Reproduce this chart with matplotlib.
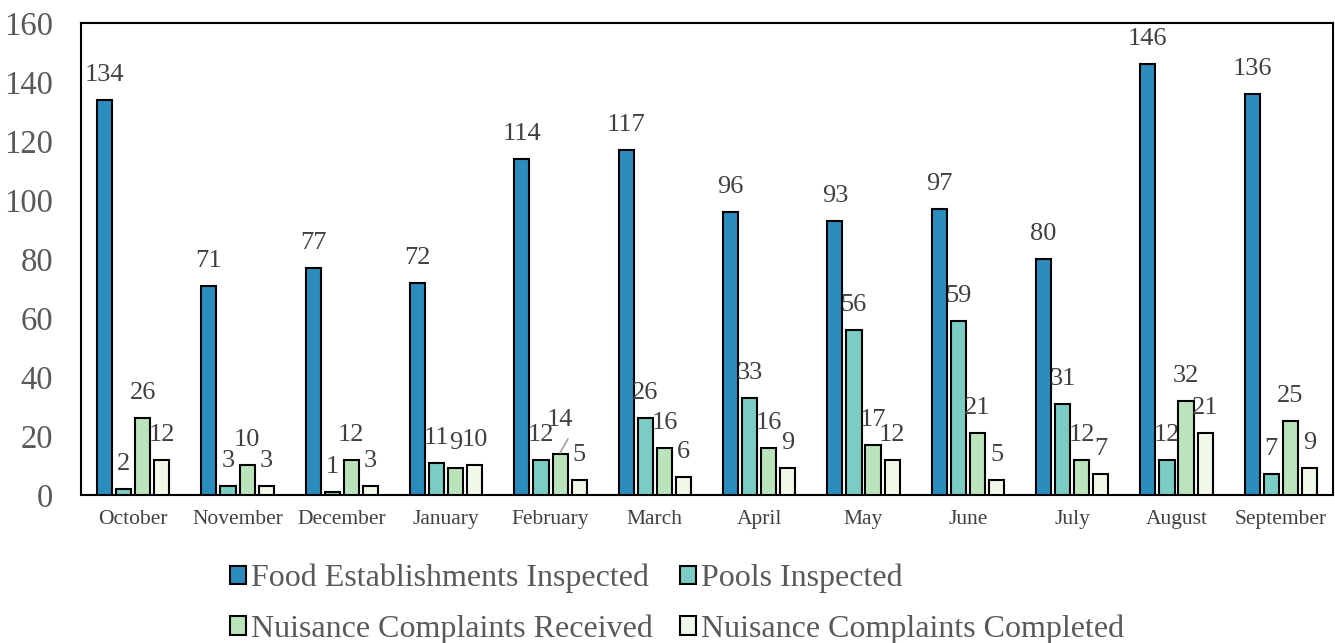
import numpy as np
import matplotlib
matplotlib.use("Agg")
import matplotlib.pyplot as plt

months = ["October", "November", "December", "January", "February", "March",
          "April", "May", "June", "July", "August", "September"]
food = [134, 71, 77, 72, 114, 117, 96, 93, 97, 80, 146, 136]
pools = [2, 3, 1, 11, 12, 26, 33, 56, 59, 31, 12, 7]
received = [26, 10, 12, 9, 14, 16, 16, 17, 21, 12, 32, 25]
completed = [12, 3, 3, 10, 5, 6, 9, 12, 5, 7, 21, 9]

series_names = ["Food Establishments Inspected", "Pools Inspected",
                "Nuisance Complaints Received", "Nuisance Complaints Completed"]
colors = ["#2b8cbe", "#7bccc4", "#bae4bc", "#f0f9e8"]

plt.rcParams["font.family"] = ["Liberation Serif", "DejaVu Serif"]
text_gray = "#595959"
label_gray = "#404040"

fig = plt.figure(figsize=(13.35, 6.43), dpi=100)
ax = fig.add_axes([0.0607, 0.2302, 0.9378, 0.734])

x = np.arange(len(months))
slot = 0.183
width = 0.145
data = [food, pools, received, completed]
handles = []
for i, (vals, col, name) in enumerate(zip(data, colors, series_names)):
    pos = x + (i - 1.5) * slot
    bars = ax.bar(pos, vals, width=width, color=col, edgecolor="black",
                  linewidth=1.5, label=name, zorder=3)
    handles.append(bars)
    for j, (px, v) in enumerate(zip(pos, vals)):
        extra = 0
        if months[j] == "February" and i == 2:
            # this label is lifted clear of its neighbours, with a leader line
            extra = 6
            ax.annotate("", xy=(px, v + 0.3), xytext=(px + 0.075, v + 5),
                        arrowprops=dict(arrowstyle="-", color="#a6a6a6",
                                        lw=1.3, shrinkA=0, shrinkB=0))
        ax.annotate(str(v), xy=(px, v), xytext=(0, 18 + extra),
                    textcoords="offset points", ha="center", va="center",
                    fontsize=19, color=label_gray)

ax.set_xlim(-0.5, len(months) - 0.5)
ax.set_ylim(0, 160)
ax.set_yticks(np.arange(0, 161, 20))
ax.set_xticks(x)
ax.set_xticklabels(months, fontsize=15.5, color=label_gray)
ax.tick_params(axis="x", length=0, pad=11)
ax.tick_params(axis="y", length=0, pad=20, labelsize=23.5, labelcolor=text_gray)
for s in ax.spines.values():
    s.set_color("black")
    s.set_linewidth(1.5)

order = [0, 2, 1, 3]
leg = fig.legend([handles[k] for k in order], [series_names[k] for k in order],
                 loc="upper center", bbox_to_anchor=(0.507, 0.168), ncol=2,
                 frameon=False, fontsize=23, handlelength=0.5,
                 handleheight=0.5, handletextpad=0.15, columnspacing=0.85,
                 labelspacing=0.66, labelcolor=text_gray)

fig.savefig("out.png", dpi=100)
